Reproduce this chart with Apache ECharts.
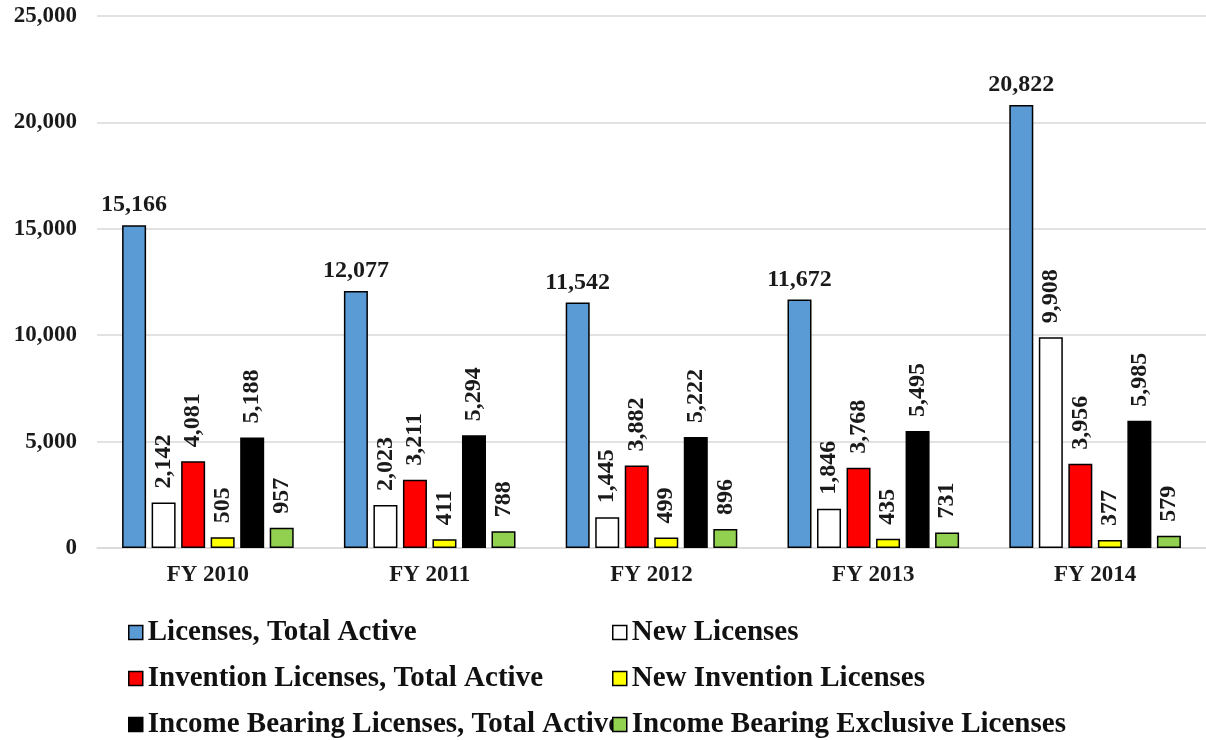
<!DOCTYPE html>
<html>
<head>
<meta charset="utf-8">
<script src="https://cdn.jsdelivr.net/npm/echarts@6/dist/echarts.min.js"></script>
<style>
html,body{margin:0;padding:0;background:#fff;}
#chart{width:1206px;height:740px;}
</style>
</head>
<body>
<div id="chart"></div>
<script>
// ---- Data ----
const categories = ['FY 2010', 'FY 2011', 'FY 2012', 'FY 2013', 'FY 2014'];
const seriesNames = [
  'Licenses, Total Active',
  'New Licenses',
  'Invention Licenses, Total Active',
  'New Invention Licenses',
  'Income Bearing Licenses, Total Active',
  'Income Bearing Exclusive Licenses'
];
const licensesTotalActive   = [15166, 12077, 11542, 11672, 20822];
const newLicenses           = [2142, 2023, 1445, 1846, 9908];
const inventionTotalActive  = [4081, 3211, 3882, 3768, 3956];
const newInventionLicenses  = [505, 411, 499, 435, 377];
const incomeBearingTotal    = [5188, 5294, 5222, 5495, 5985];
const incomeBearingExclusive= [957, 788, 896, 731, 579];
const yMin = 0, yMax = 25000, yInterval = 5000;

// ---- Styles ----
const FONT = "'Liberation Serif', 'Times New Roman', serif";
const colors = ['#5B9BD5', '#FFFFFF', '#FF0000', '#FFFF00', '#000000', '#92D050'];
const values = [licensesTotalActive, newLicenses, inventionTotalActive,
                newInventionLicenses, incomeBearingTotal, incomeBearingExclusive];
const fmt = v => Number(v).toLocaleString('en-US');

const series = values.map((data, i) => ({
  name: seriesNames[i],
  type: 'bar',
  data: data,
  barWidth: 24,
  barGap: '23%',
  itemStyle: { color: colors[i], borderColor: '#000', borderWidth: 1.5 },
  label: i === 0 ? {
    show: true, position: 'top', distance: 8,
    formatter: p => fmt(p.value),
    fontFamily: FONT, fontWeight: 'bold', fontSize: 24, color: '#1a1a1a'
  } : {
    show: true, position: 'top', distance: 14, rotate: 90,
    align: 'left', verticalAlign: 'middle',
    formatter: p => fmt(p.value),
    fontFamily: FONT, fontWeight: 'bold', fontSize: 24, color: '#1a1a1a'
  },
  emphasis: { disabled: true }
}));

const legendCommon = {
  orient: 'vertical',
  icon: 'rect',
  padding: 0,
  height: 160,
  itemWidth: 14, itemHeight: 14,
  itemGap: 17,
  itemStyle: { borderColor: '#000', borderWidth: 1.5 },
  textStyle: { fontFamily: FONT, fontWeight: 'bold', fontSize: 29, color: '#111', lineHeight: 29 },
  selectedMode: false
};

const chart = echarts.init(document.getElementById('chart'));
chart.setOption({
  animation: false,
  backgroundColor: '#fff',
  grid: { left: 97, top: 16, width: 1116, height: 532, containLabel: false },
  xAxis: {
    type: 'category',
    data: categories,
    axisLine: { show: true, lineStyle: { color: '#D9D9D9', width: 1.5 } },
    axisTick: { show: false },
    axisLabel: { margin: 16, fontFamily: FONT, fontWeight: 'bold', fontSize: 23, color: '#1a1a1a' }
  },
  yAxis: {
    type: 'value',
    min: yMin, max: yMax, interval: yInterval,
    axisLine: { show: false },
    axisTick: { show: false },
    splitLine: { lineStyle: { color: '#D9D9D9', width: 1.5 } },
    axisLabel: { margin: 20, formatter: v => fmt(v), fontFamily: FONT, fontWeight: 'bold', fontSize: 23, color: '#1a1a1a' }
  },
  legend: [
    Object.assign({ left: 128, top: 618, data: [seriesNames[0], seriesNames[2], seriesNames[4]] }, legendCommon),
    Object.assign({ left: 612, top: 618, data: [seriesNames[1], seriesNames[3], seriesNames[5]] }, legendCommon)
  ],
  series: series
});
</script>
</body>
</html>
